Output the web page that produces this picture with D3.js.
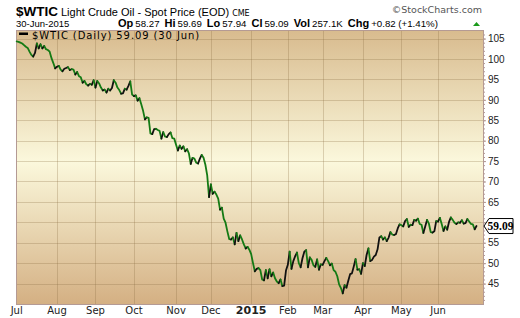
<!DOCTYPE html>
<meta charset="utf-8">
<style>
body { margin: 0; background: #fff; }
svg { display: block; font-family: "Liberation Sans", Arial, sans-serif; }
.y.axis text { font: 10px "Liberation Sans", Arial, sans-serif; fill: #222; }
.y.axis line { stroke: #b49a94; }
.y.axis path { display: none; }
.mlabel { font: 10px "DejaVu Sans", Verdana, sans-serif; fill: #222; }
</style>
<body>
<script src="https://cdnjs.cloudflare.com/ajax/libs/d3/7.8.5/d3.min.js"></script>
<script>

// month labels and trading days per month, Jul 2014 - Jun 2015
const months = ["Jul","Aug","Sep","Oct","Nov","Dec","2015","Feb","Mar","Apr","May","Jun"];
const monthDays = [22, 21, 21, 23, 19, 22, 20, 19, 22, 21, 20, 22];

// daily closes
const closes = [
  // Jul
  104.3,104.2,104.0,103.8,103.4,103.0,102.7,101.8,101.0,100.6,101.5,103.8,102.6,103.6,102.6,103.2,102.4,102.2,101.8,100.2,99.0,97.7,
  // Aug
  98.1,98.3,97.4,97.0,97.6,97.8,98.0,97.3,97.5,97.4,96.2,96.8,95.8,95.5,94.2,94.6,93.8,93.5,93.9,93.7,94.8,
  // Sep
  93.0,94.6,94.0,93.0,92.3,92.5,91.8,92.7,92.3,92.9,94.8,94.2,93.0,92.4,91.5,91.6,92.7,92.5,93.4,94.5,91.3,
  // Oct
  90.9,91.1,89.8,90.4,88.9,87.3,85.2,85.7,85.6,81.8,81.6,82.8,82.9,82.6,82.4,80.5,82.1,81.0,80.9,81.6,82.0,80.6,80.5,
  // Nov
  79.0,77.6,78.8,78.0,78.6,77.4,77.9,76.9,74.3,75.8,75.6,74.6,74.4,75.6,76.5,75.8,74.1,71.5,66.2,
  // Dec
  69.3,67.0,67.5,66.8,65.8,63.1,63.6,60.9,59.9,57.8,55.9,55.8,56.3,54.6,57.4,55.4,56.8,55.8,54.6,53.6,54.0,53.3,
  // Jan
  52.2,50.0,48.0,48.6,48.8,48.3,46.0,45.8,48.3,46.3,48.5,46.8,47.7,46.3,45.5,45.1,46.0,44.4,44.5,48.2,
  // Feb
  49.6,52.8,48.6,50.5,51.7,52.6,50.0,49.0,51.2,52.8,53.2,49.0,51.4,50.8,49.5,49.1,50.9,48.4,49.7,
  // Mar
  49.6,50.5,51.3,50.5,49.5,49.9,48.3,47.9,46.8,44.8,43.9,42.6,44.6,44.0,45.7,47.3,47.5,49.2,51.0,48.4,48.5,47.4,
  // Apr
  50.0,49.3,52.0,53.6,50.5,50.8,51.6,52.0,53.4,56.3,56.6,55.8,56.3,55.4,56.2,57.6,57.0,56.9,57.1,58.5,59.5,
  // May
  59.3,59.0,60.3,60.8,58.9,59.4,59.3,60.6,60.4,60.9,59.6,59.4,57.4,59.0,60.6,59.7,57.6,57.5,57.8,60.3,
  // Jun
  60.2,61.1,59.6,57.9,59.0,58.2,60.1,61.2,60.6,59.9,59.6,60.0,59.9,60.5,59.7,59.8,60.8,60.2,59.6,59.5,58.3,59.09
];

const yTicks = [45, 50, 55, 60, 65, 70, 75, 80, 85, 90, 95, 100, 105];
const statLabels = ["Op", "Hi", "Lo", "Cl", "Vol", "Chg"];
const statValues = ["58.27", "59.69", "57.94", "59.09", "257.1K", "+0.82 (+1.41%)"];
const lastClose = 59.09;

var W = 520, H = 318;
var plot = {left: 16, right: 483, top: 30, bottom: 304};

var svg = d3.select("body").append("svg")
    .attr("width", W)
    .attr("height", H);

var x = d3.scaleLinear().domain([0, closes.length - 1]).range([16.7, 476.5]);
var y = d3.scaleLinear().domain([40, 107.1]).range([plot.bottom, plot.top]);

// start index of each month
var monthStart = [0].concat(Array.from(d3.cumsum(monthDays)).slice(0, -1));

// background gradient
var grad = svg.append("defs").append("linearGradient")
    .attr("id", "bg").attr("x1", 0).attr("y1", 0).attr("x2", 0).attr("y2", 1);
grad.append("stop").attr("offset", "0%").attr("stop-color", "#d8bb8e");
grad.append("stop").attr("offset", "48%").attr("stop-color", "#fbf8dc");
grad.append("stop").attr("offset", "100%").attr("stop-color", "#d4b083");

svg.append("rect")
    .attr("x", plot.left).attr("y", plot.top)
    .attr("width", plot.right - plot.left).attr("height", plot.bottom - plot.top)
    .attr("fill", "url(#bg)");

// grid
svg.append("g").selectAll("line")
    .data(yTicks)
  .enter().append("line")
    .attr("x1", plot.left).attr("x2", plot.right)
    .attr("y1", d => Math.round(y(d)) + 0.5).attr("y2", d => Math.round(y(d)) + 0.5)
    .attr("stroke", "#8a6a40").attr("stroke-opacity", 0.28);

svg.append("g").selectAll("line")
    .data(monthStart.slice(1))
  .enter().append("line")
    .attr("x1", d => Math.round(x(d)) + 0.5).attr("x2", d => Math.round(x(d)) + 0.5)
    .attr("y1", plot.top).attr("y2", plot.bottom)
    .attr("stroke", "#8a6a40").attr("stroke-opacity", 0.28);

// border
svg.append("rect")
    .attr("x", plot.left + 0.5).attr("y", plot.top + 0.5)
    .attr("width", plot.right - plot.left).attr("height", plot.bottom - plot.top)
    .attr("fill", "none").attr("stroke", "#b49a94");

// price line: black when up, green when down
var runs = [];
for (var i = 1; i < closes.length; i++) {
  var up = closes[i] >= closes[i - 1];
  var last = runs[runs.length - 1];
  if (last && last.up === up) last.pts.push(i);
  else runs.push({up: up, pts: [i - 1, i]});
}
var line = d3.line().x(i => x(i)).y(i => y(closes[i]));

svg.append("g").selectAll("path")
    .data(runs)
  .enter().append("path")
    .attr("d", d => line(d.pts))
    .attr("fill", "none")
    .attr("stroke", d => d.up ? "#111" : "#147a14")
    .attr("stroke-width", 1.8)
    .attr("stroke-linejoin", "round")
    .attr("stroke-linecap", "round");

// right axis (the 60 label sits under the last-value box)
svg.append("g")
    .attr("class", "y axis")
    .attr("transform", "translate(" + plot.right + ",0)")
    .call(d3.axisRight(y).tickValues(d3.range(41, 107)).tickSize(2).tickFormat(""));

svg.append("g")
    .attr("class", "y axis")
    .attr("transform", "translate(" + plot.right + ",0)")
    .call(d3.axisRight(y).tickValues(yTicks).tickSize(3).tickPadding(2)
      .tickFormat(d => Math.abs(y(d) - y(lastClose)) < 9 ? "" : d));

svg.append("line")
    .attr("x1", plot.right + 0.5).attr("x2", plot.right + 0.5)
    .attr("y1", plot.top).attr("y2", plot.bottom)
    .attr("stroke", "#b49a94");

// month labels
svg.append("g").selectAll("text")
    .data(months)
  .enter().append("text")
    .attr("class", "mlabel")
    .attr("x", (d, i) => x(monthStart[i]))
    .attr("y", 314)
    .attr("text-anchor", "middle")
    .style("font-weight", d => d === "2015" ? "bold" : "normal")
    .style("font-size", d => d === "2015" ? "11px" : "10px")
    .text(d => d);

// last value marker
var ly = y(lastClose);
svg.append("path")
    .attr("d", "M" + (plot.right + 1) + "," + ly + " L" + (plot.right + 6) + "," + (ly - 7.5) +
               " L" + 513 + "," + (ly - 7.5) + " L" + 513 + "," + (ly + 7.5) +
               " L" + (plot.right + 6) + "," + (ly + 7.5) + " Z")
    .attr("fill", "#fff").attr("stroke", "#000").attr("stroke-width", 1);
svg.append("text")
    .attr("x", 500.5).attr("y", ly + 4)
    .attr("text-anchor", "middle")
    .style("font", "bold 11.5px 'Liberation Serif', serif")
    .text(lastClose.toFixed(2));

// legend
svg.append("rect")
    .attr("x", 19).attr("y", 32.5).attr("width", 9).attr("height", 2.5).attr("fill", "#000");
svg.append("text")
    .attr("x", 32).attr("y", 38.5)
    .style("font", "10px 'DejaVu Sans', Verdana, sans-serif")
    .style("letter-spacing", "0.9px")
    .text("$WTIC (Daily) " + lastClose.toFixed(2) + " (30 Jun)");

// header
var h1 = svg.append("text").attr("x", 16).attr("y", 16);
h1.append("tspan").style("font", "bold 13.5px 'Liberation Sans', Arial").text("$WTIC");
h1.append("tspan").style("font", "11px 'Liberation Sans', Arial").attr("dx", 3).text("Light Crude Oil - Spot Price (EOD)");
h1.append("tspan").style("font", "8px 'DejaVu Sans', Verdana").attr("dx", 3).text("CME");

svg.append("text")
    .attr("x", 16).attr("y", 27)
    .style("font", "9.5px 'Liberation Sans', Arial")
    .text("30-Jun-2015");

var h2 = svg.append("text").attr("x", 118).attr("y", 27);
statLabels.forEach(function(l, i) {
  h2.append("tspan").style("font", "bold 11px 'Liberation Sans', Arial").attr("dx", i ? 5 : 0).text(l);
  h2.append("tspan").style("font", "9.7px 'Liberation Sans', Arial").attr("dx", 2).text(statValues[i]);
});

svg.append("path")
    .attr("d", "M473,26 L476.5,22 L480,26 Z")
    .attr("fill", "#1a9a1a");

svg.append("text")
    .attr("x", 482).attr("y", 13)
    .attr("text-anchor", "end")
    .style("font", "9.5px 'DejaVu Sans', Verdana, sans-serif")
    .style("fill", "#555")
    .text("\u00a9StockCharts.com");

</script>
</body>
